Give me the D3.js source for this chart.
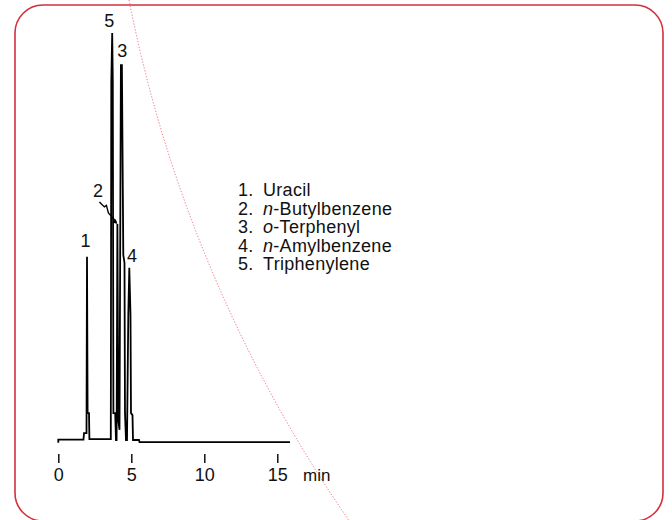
<!DOCTYPE html>
<html>
<head>
<meta charset="utf-8">
<script src="https://cdn.jsdelivr.net/npm/d3@7"></script>
<style>
  html, body { margin: 0; padding: 0; background: #fff; }
  svg text { font-family: "Liberation Sans", Arial, Helvetica, sans-serif; fill: #111; }
</style>
</head>
<body>
<div id="chart"></div>
<script>
// chromatogram trace (time in min, relative signal %)
const traceTime = [0, 0, 1.726, 1.760, 1.932, 1.966, 2.007, 2.103, 2.130, 3.596,
  3.630, 3.692, 3.733, 3.774, 3.897, 3.952, 3.993, 4.048, 4.110, 4.192,
  4.288, 4.356, 4.452, 4.534, 4.568, 4.637, 4.705, 4.795, 4.863, 4.945,
  4.979, 5.082, 5.116, 5.527, 5.562, 15.870];
const traceSignal = [-0.7, 0.1, 0.1, 1.7, 1.7, 45.0, 6.6, 6.6, 0.2, 0.2,
  88.0, 100, 88.0, 6.6, 6.6, 0, 0, 53.1, 4.9, 2.5,
  92.1, 92.1, 45.5, 43.5, 6.6, 0, 0, 30.7, 42.3, 30.7,
  6.6, 6.1, 0, 0, -0.5, -0.5];

// peaks
const peakIds = [1, 2, 3, 4, 5];
const peakNames = ["Uracil", "n-Butylbenzene", "o-Terphenyl", "n-Amylbenzene", "Triphenylene"];
const peakTimes = [1.966, 4.048, 4.32, 4.863, 3.692];
const peakHeights = [45.0, 53.1, 92.1, 42.3, 100];

// axis
const xTicks = [0, 5, 10, 15];
const xUnit = "min";

const W = 672, H = 520;

const svg = d3.select("#chart")
  .append("svg")
    .attr("width", W)
    .attr("height", H);

// dotted red guide curve in the background
svg.append("path")
  .attr("d", "M129,0 A1385,1385 0 0 0 350,522")
  .attr("fill", "none")
  .attr("stroke", "#e6606a")
  .attr("stroke-width", 0.9)
  .attr("stroke-dasharray", "1.2 1.8");

// rounded red frame
svg.append("rect")
  .attr("x", 15).attr("y", 5)
  .attr("width", 648).attr("height", 516)
  .attr("rx", 28).attr("ry", 28)
  .attr("fill", "none")
  .attr("stroke", "#d2303c")
  .attr("stroke-width", 1.6);

const x = d3.scaleLinear()
  .domain([0, 15])
  .range([58.3, 277.3]);

const y = d3.scaleLinear()
  .domain([0, 100])
  .range([440, 33]);

// x axis: ticks only, no domain line
const axis = svg.append("g")
  .attr("transform", "translate(0,454)")
  .call(d3.axisBottom(x).tickValues(xTicks).tickSize(9).tickPadding(5))
axis.select(".domain").remove();
axis.selectAll("line").attr("stroke", "#111").attr("stroke-width", 1.5);
axis.selectAll("text")
  .style("font-size", "18px")
  .attr("fill", "#111");

svg.append("text")
  .attr("x", 303)
  .attr("y", 480.5)
  .style("font-size", "17px")
  .text(xUnit);

// trace
const trace = traceTime.map((t, i) => [t, traceSignal[i]]);
const line = d3.line()
  .x(d => x(d[0]))
  .y(d => y(d[1]));

svg.append("path")
  .datum(trace)
  .attr("d", line)
  .attr("fill", "none")
  .attr("stroke", "#000")
  .attr("stroke-width", 1.8)
  .attr("stroke-linejoin", "miter")
  .attr("stroke-miterlimit", 2);

// peak numbers (offsets from apex)
const labelOffset = {1: [-1.5, -10], 2: [-19.4, -27], 3: [1, -8], 4: [2.7, -6], 5: [-3, -6.5]};
svg.append("g")
  .selectAll("text")
  .data(peakIds)
  .join("text")
    .attr("x", (d, i) => x(peakTimes[i]) + labelOffset[d][0])
    .attr("y", (d, i) => y(peakHeights[i]) + labelOffset[d][1])
    .attr("text-anchor", "middle")
    .style("font-size", "18px")
    .text(d => d);

// pointer from "2" to its peak
const p2x = x(peakTimes[1]), p2y = y(peakHeights[1]);
svg.append("path")
  .attr("d", `M${p2x - 18},${p2y - 22} L${p2x - 13},${p2y - 17} L${p2x - 11},${p2y - 18.5} L${p2x - 9},${p2y - 11} L${p2x - 1},${p2y - 2}`)
  .attr("fill", "none")
  .attr("stroke", "#000")
  .attr("stroke-width", 1.4);
svg.append("path")
  .attr("d", `M${p2x},${p2y} L${p2x - 5},${p2y - 1.5} L${p2x - 2},${p2y - 5} Z`)
  .attr("fill", "#000");

// legend list
const legend = svg.append("g").style("font-size", "18px").style("letter-spacing", "0.3px");
peakIds.forEach((id, i) => {
  const by = 196 + i * 18.5;
  legend.append("text")
    .attr("x", 238).attr("y", by)
    .text(id + ".");
  const t = legend.append("text").attr("x", 263).attr("y", by);
  const m = peakNames[i].match(/^([no])(-.*)$/);
  if (m) {
    t.append("tspan").style("font-style", "italic").text(m[1]);
    t.append("tspan").text(m[2]);
  } else {
    t.text(peakNames[i]);
  }
});
</script>
</body>
</html>
